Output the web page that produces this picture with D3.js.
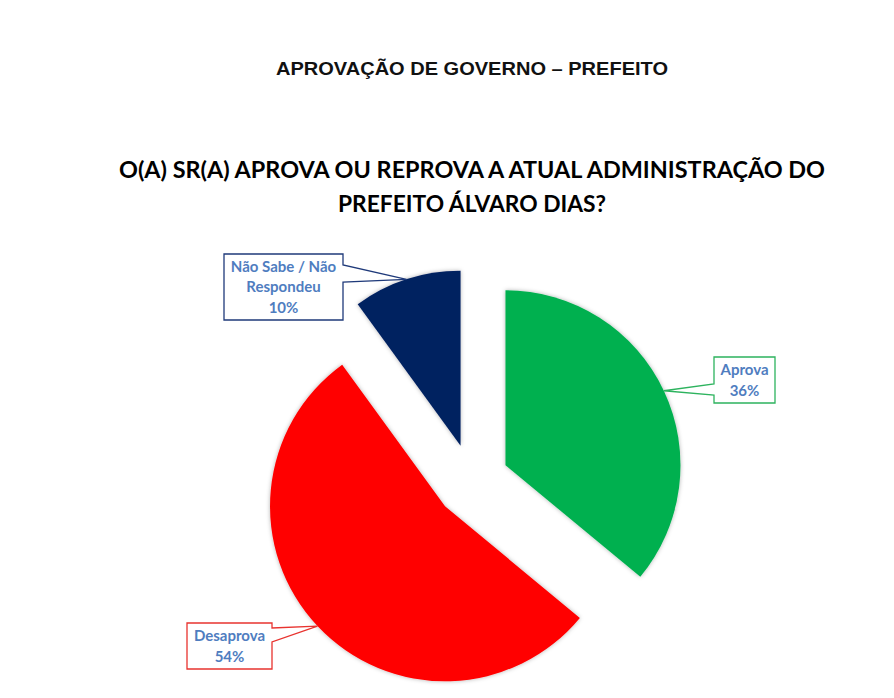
<!DOCTYPE html>
<html>
<head>
<meta charset="utf-8">
<script src="https://cdn.jsdelivr.net/npm/d3@7"></script>
<style>
  body { margin: 0; background: #fff; }
  svg { display: block; }
</style>
</head>
<body>
<svg id="chart" width="894" height="698"></svg>
<script>
// pie data
const categories = ["Aprova", "Desaprova", "Não Sabe / Não Respondeu"];
const values = [36, 54, 10];
const colors = ["#00B050", "#FF0000", "#002060"];
const labelLines = [["Aprova", "36%"], ["Desaprova", "54%"], ["Não Sabe / Não", "Respondeu", "10%"]];

const titleTop = "APROVAÇÃO DE GOVERNO – PREFEITO";
const titleLines = ["O(A) SR(A) APROVA OU REPROVA A ATUAL ADMINISTRAÇÃO DO", "PREFEITO ÁLVARO DIAS?"];

// layout
const cx = 472, cy = 481, radius = 175, explode = 37;
// callout boxes: x, y, w, h, side of wedge, wedge base offsets
const boxes = [
  { x: 714, y: 357, w: 61, h: 46, side: "left", b1: 27, b2: 38, stroke: "#2DB35E" },
  { x: 187, y: 623, w: 85, h: 46, side: "right", b1: 5, b2: 19, stroke: "#E8332F" },
  { x: 224, y: 254, w: 119, h: 66, side: "right", b1: 11, b2: 28, stroke: "#1F3A7A" }
];

const svg = d3.select("#chart");

// soft shadow around slices
const defs = svg.append("defs");
defs.append("filter")
  .attr("id", "shadow")
  .attr("x", "-20%").attr("y", "-20%").attr("width", "140%").attr("height", "140%")
  .append("feDropShadow")
    .attr("dx", 0).attr("dy", 0)
    .attr("stdDeviation", 2)
    .attr("flood-color", "#000")
    .attr("flood-opacity", 0.3);

// titles
svg.append("text")
  .attr("x", cx).attr("y", 75)
  .attr("text-anchor", "middle")
  .attr("font-family", "Liberation Sans, Arial, sans-serif")
  .attr("font-weight", "bold")
  .attr("font-size", "19px")
  .attr("textLength", 392)
  .attr("lengthAdjust", "spacingAndGlyphs")
  .attr("fill", "#111")
  .text(titleTop);

const titleWidths = [706, 268];
svg.selectAll("text.title")
  .data(titleLines)
  .enter()
  .append("text")
    .attr("class", "title")
    .attr("x", cx)
    .attr("y", (d, i) => 178 + i * 34)
    .attr("text-anchor", "middle")
    .attr("font-family", "Lato, Open Sans, sans-serif")
    .attr("font-weight", "bold")
    .attr("font-size", "23px")
    .attr("textLength", (d, i) => titleWidths[i])
    .attr("lengthAdjust", "spacingAndGlyphs")
    .attr("fill", "#000")
    .text(d => d);

// pie
const pie = d3.pie().sort(null).value(d => d);
const arcs = pie(values);
const arc = d3.arc().innerRadius(0).outerRadius(radius);
const edge = d3.arc().innerRadius(radius).outerRadius(radius);

// offset of each exploded slice along its middle angle
const offset = d => {
  const a = (d.startAngle + d.endAngle) / 2;
  return [explode * Math.sin(a), -explode * Math.cos(a)];
};

svg.append("g")
  .attr("transform", `translate(${cx},${cy})`)
  .selectAll("path")
  .data(arcs)
  .enter()
  .append("path")
    .attr("d", arc)
    .attr("transform", d => `translate(${offset(d)})`)
    .attr("fill", (d, i) => colors[i])
    .attr("filter", "url(#shadow)");

// callouts
const callout = svg.append("g");
arcs.forEach((d, i) => {
  const b = boxes[i];
  const o = offset(d);
  const c = edge.centroid(d);
  const tip = [cx + o[0] + c[0], cy + o[1] + c[1]];
  let p;
  if (b.side === "left") {
    p = `M${b.x},${b.y}H${b.x + b.w}V${b.y + b.h}H${b.x}V${b.y + b.b2}L${tip}L${b.x},${b.y + b.b1}Z`;
  } else {
    p = `M${b.x},${b.y}H${b.x + b.w}V${b.y + b.b1}L${tip}L${b.x + b.w},${b.y + b.b2}V${b.y + b.h}H${b.x}Z`;
  }
  callout.append("path")
    .attr("d", p)
    .attr("fill", "#fff")
    .attr("stroke", b.stroke)
    .attr("stroke-width", 1.3);

  const lines = labelLines[i];
  const lh = 20.5;
  const midY = b.y + b.h / 2;
  callout.append("g")
    .selectAll("text")
    .data(lines)
    .enter()
    .append("text")
      .attr("x", b.x + b.w / 2)
      .attr("y", (t, j) => midY + (j - (lines.length - 1) / 2) * lh)
      .attr("dy", "0.35em")
      .attr("text-anchor", "middle")
      .attr("font-family", "Lato, Open Sans, sans-serif")
      .attr("font-weight", "bold")
      .attr("font-size", "15px")
      .attr("fill", "#4F7DBF")
      .text(t => t);
});
</script>
</body>
</html>
